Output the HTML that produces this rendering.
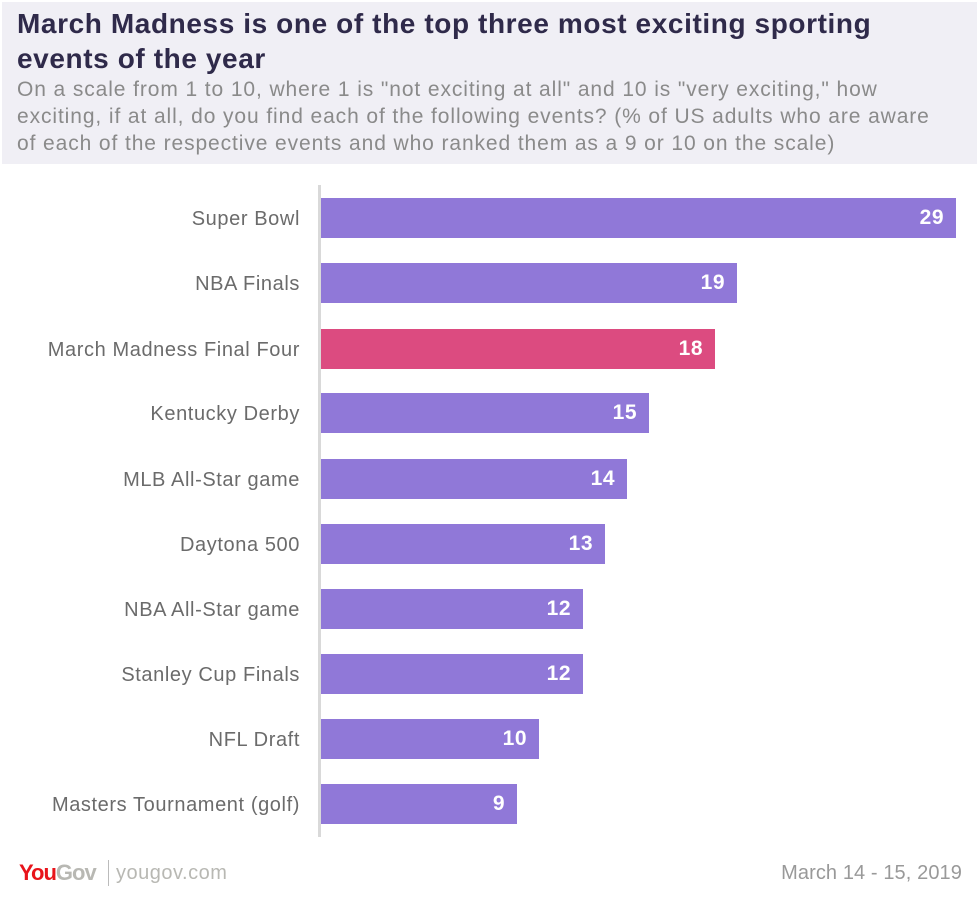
<!DOCTYPE html>
<html><head><meta charset="utf-8"><style>
body{margin:0;width:977px;height:902px;background:#fff;font-family:"Liberation Sans",sans-serif;position:relative;overflow:hidden}
.hdr{position:absolute;left:2px;top:2px;width:975px;height:162px;background:#f0eff5}
.t{position:absolute;left:17px;top:6px;font-size:28px;font-weight:bold;color:#2f2a4a;line-height:35px;letter-spacing:0.6px;white-space:nowrap}
.s{position:absolute;left:17px;top:76px;font-size:21px;color:#8a8a8a;line-height:27px;white-space:nowrap;letter-spacing:0.9px}
.ax{position:absolute;left:318px;top:185px;width:3px;height:652px;background:#d9d9d9}
.lab{position:absolute;right:677px;font-size:20px;color:#6b6b6b;white-space:nowrap;line-height:24px;letter-spacing:0.6px}
.bar{position:absolute;left:321px;height:40px;background:#9078d8}
.bar span{position:absolute;right:12px;top:8px;color:#fff;font-weight:bold;font-size:21px;letter-spacing:0.5px}
.ft{position:absolute;top:862px;font-size:20px}
</style></head><body>
<div class="hdr"></div>
<div class="t">March Madness is one of the top three most exciting sporting<br>events of the year</div>
<div class="s">On a scale from 1 to 10, where 1 is "not exciting at all" and 10 is "very exciting," how<br>exciting, if at all, do you find each of the following events? (% of US adults who are aware<br>of each of the respective events and who ranked them as a 9 or 10 on the scale)</div>
<div class="ax"></div>

<div class="lab" style="top:207px">Super Bowl</div><div class="bar" style="top:198px;width:635px"><span>29</span></div>
<div class="lab" style="top:272px">NBA Finals</div><div class="bar" style="top:263px;width:416px"><span>19</span></div>
<div class="lab" style="top:338px">March Madness Final Four</div><div class="bar" style="top:329px;width:394px;background:#dc4b80"><span>18</span></div>
<div class="lab" style="top:402px">Kentucky Derby</div><div class="bar" style="top:393px;width:328px"><span>15</span></div>
<div class="lab" style="top:468px">MLB All-Star game</div><div class="bar" style="top:459px;width:306px"><span>14</span></div>
<div class="lab" style="top:533px">Daytona 500</div><div class="bar" style="top:524px;width:284px"><span>13</span></div>
<div class="lab" style="top:598px">NBA All-Star game</div><div class="bar" style="top:589px;width:262px"><span>12</span></div>
<div class="lab" style="top:663px">Stanley Cup Finals</div><div class="bar" style="top:654px;width:262px"><span>12</span></div>
<div class="lab" style="top:728px">NFL Draft</div><div class="bar" style="top:719px;width:218px"><span>10</span></div>
<div class="lab" style="top:793px">Masters Tournament (golf)</div><div class="bar" style="top:784px;width:196px"><span>9</span></div>

<div class="ft" style="left:19px;font-weight:bold;letter-spacing:-1px;font-size:22px;top:860px"><span style="color:#e8141b">You</span><span style="color:#b8b8b3">Gov</span></div>
<div style="position:absolute;left:108px;top:860px;width:1px;height:26px;background:#bbb"></div>
<div class="ft" style="left:116px;color:#b8b8b3;letter-spacing:0.5px">yougov.com</div>
<div class="ft" style="right:15px;color:#999;letter-spacing:0.1px">March 14 - 15, 2019</div>
</body></html>
